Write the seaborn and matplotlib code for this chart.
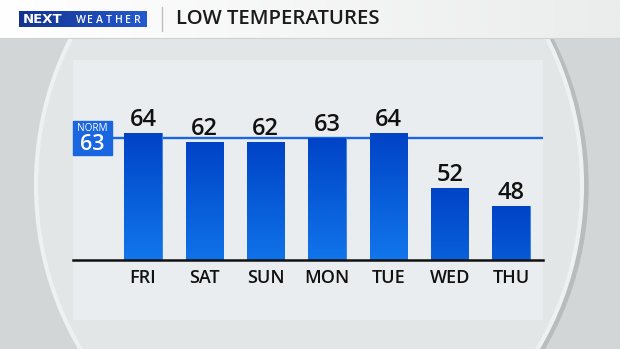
import matplotlib
matplotlib.use("Agg")
import matplotlib.pyplot as plt
import numpy as np
import pandas as pd
import seaborn as sns
from matplotlib.patches import Rectangle, Ellipse
from matplotlib.colors import to_rgb

# ---- data ----
days = ["FRI", "SAT", "SUN", "MON", "TUE", "WED", "THU"]
lows = [64, 62, 62, 63, 64, 52, 48]
normal_low = 63
title = "LOW TEMPERATURES"
y_min, y_max = 36.2, 80

sns.set_theme(style="white")
plt.rcParams["font.family"] = ["Open Sans", "DejaVu Sans"]

W, H = 620, 349
fig = plt.figure(figsize=(W / 100, H / 100), dpi=100)

# ---- background canvas in pixel coordinates ----
bg = fig.add_axes([0, 0, 1, 1])
bg.set_xlim(0, W)
bg.set_ylim(H, 0)
bg.axis("off")
bg.add_patch(Rectangle((0, 0), W, H, color="#d2d6d7", zorder=0))
bg.add_patch(Ellipse((315, 186), 546, 600, color="#b8bcbe", zorder=1))
bg.add_patch(Ellipse((309, 185), 546, 600, fc="#e3e6e7", ec="#eef1f2", lw=3, zorder=2))

# header band
hgrad = np.linspace(0, 1, 256)
c0, c1 = np.array(to_rgb("#ffffff")), np.array(to_rgb("#ebecec"))
hdr = (c0[None, :] * (1 - hgrad[:, None]) + c1[None, :] * hgrad[:, None])[None, :, :]
bg.imshow(hdr, extent=[0, W, 38, 0], aspect="auto", zorder=3)
bg.plot([0, W], [38, 38], color="#cfd2d3", lw=0.8, zorder=4)

# logo
lc0, lc1 = np.array(to_rgb("#14338f")), np.array(to_rgb("#2459d0"))
lg = (lc0[None, :] * (1 - hgrad[:, None]) + lc1[None, :] * hgrad[:, None])[None, :, :]
bg.imshow(lg, extent=[19, 147, 27.5, 11.5], aspect="auto", zorder=5)
bg.text(23, 19.8, "NEXT", color="white", fontsize=9.5, weight="heavy",
        va="center", ha="left", family=["DejaVu Sans"], zorder=6)
for i, ch in enumerate("WEATHER"):
    bg.text(81 + i * 9.4, 20.2, ch, color="white", fontsize=7.6, weight="semibold",
            va="center", ha="center", zorder=6)
bg.plot([162, 162], [7, 31], color="#bdbdbd", lw=1, zorder=6)
bg.text(176, 19.5, title, fontsize=14.7, color="#1b1b1b", va="center", ha="left",
        weight="semibold", zorder=6)

# chart panel
bg.add_patch(Rectangle((73, 60), 470, 260, fc="#eaedef", ec="none", zorder=7))

# ---- main chart ----
ax = fig.add_axes([73 / W, (H - 260) / H, 470 / W, 200 / H])
ax.set_facecolor("none")
df = pd.DataFrame({"day": days, "low": lows})
sns.barplot(data=df, x="day", y="low", ax=ax, width=0.61, color="#0a5ad8",
            saturation=1, zorder=2)
ax.axhline(normal_low, xmin=(112 - 73) / 470, xmax=1, color="#1a66e0", lw=1.7, zorder=1)

top_c = np.array(to_rgb("#0043c6"))
bot_c = np.array(to_rgb("#1176ec"))
hmax = max(lows) - y_min
for p in ax.patches:
    x0, w, h = p.get_x(), p.get_width(), p.get_height()
    f = (h - y_min) / hmax
    bc = top_c * (1 - f) + bot_c * f
    t = np.linspace(0, 1, 128)[:, None]
    grad = (top_c[None, :] * (1 - t) + bc[None, :] * t)[:, None, :]
    im = ax.imshow(grad, extent=[x0, x0 + w, y_min, h], aspect="auto", zorder=2.5)
    im.set_clip_path(p)
    p.set_edgecolor("#2f7ff0")
    p.set_linewidth(0.6)

for c in ax.containers:
    ax.bar_label(c, padding=0.5, fontsize=17, color="#111111", weight="semibold", zorder=4)

ax.set_xlim(-1.141, 6.52)
ax.set_ylim(y_min, y_max)
ax.set_xlabel("")
ax.set_ylabel("")
ax.set_yticks([])
for s in ["top", "left", "right"]:
    ax.spines[s].set_visible(False)
ax.spines["bottom"].set_color("#111111")
ax.spines["bottom"].set_linewidth(1.8)
ax.spines["bottom"].set_zorder(5)
ax.tick_params(axis="x", length=0, pad=6.5, labelsize=13, labelcolor="#111111")
for lab in ax.get_xticklabels():
    lab.set_fontweight("semibold")

# normal box
bg.add_patch(Rectangle((73, 121), 39, 34, color="#1a66e0", zorder=8))
bg.text(92.5, 128.8, "NORM", color="white", fontsize=7.2, ha="center", va="center", zorder=9)
bg.text(92.5, 144.5, str(normal_low), color="white", fontsize=15.5, ha="center",
        va="center", weight="semibold", zorder=9)

fig.savefig("out.png", dpi=100)
